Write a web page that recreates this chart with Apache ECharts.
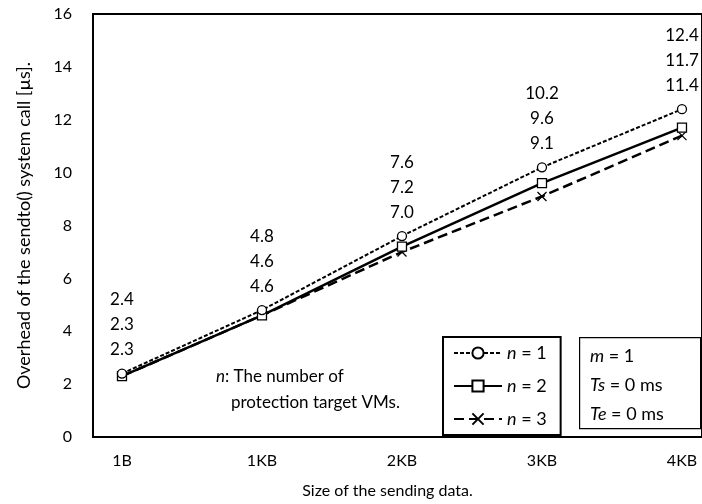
<!DOCTYPE html>
<html>
<head>
<meta charset="utf-8">
<script src="https://cdn.jsdelivr.net/npm/echarts@6/dist/echarts.min.js"></script>
<style>
  html, body { margin: 0; padding: 0; background: #fff; }
  #chart { width: 702px; height: 504px; }
</style>
</head>
<body>
<div id="chart"></div>
<script>
// sendto() overhead vs data size, three VM counts
const sizes = ['1B', '1KB', '2KB', '3KB', '4KB'];
const n1 = [2.4, 4.8, 7.6, 10.2, 12.4];
const n2 = [2.3, 4.6, 7.2, 9.6, 11.7];
const n3 = [2.3, 4.6, 7.0, 9.1, 11.4];
const seriesNames = ['n = 1', 'n = 2', 'n = 3'];

const FONT = 'Lato';

function pairs(arr) {
  return arr.map((v, i) => [i, v]);
}

const chart = echarts.init(document.getElementById('chart'));

const crossPath = 'path://M0,0L10,10M10,0L0,10';

const option = {
  animation: false,
  textStyle: { fontFamily: FONT, color: '#000' },
  grid: {
    left: 93, right: 0, top: 14, bottom: 65,
    show: true, borderColor: '#000', borderWidth: 2, backgroundColor: '#fff'
  },
  xAxis: {
    type: 'value',
    min: -0.207,
    max: 4.143,
    splitLine: { show: false },
    axisTick: { show: false },
    axisLine: { onZero: false, lineStyle: { color: '#000', width: 2 } },
    axisLabel: {
      customValues: [0, 1, 2, 3, 4],
      formatter: v => sizes[Math.round(v)],
      fontSize: 16, color: '#000', margin: 16, fontFamily: FONT
    },
    name: 'Size of the sending data.',
    nameLocation: 'middle',
    nameGap: 46,
    nameTextStyle: { fontSize: 16, color: '#000', fontFamily: FONT, padding: [0, 20, 0, 0] }
  },
  yAxis: {
    type: 'value',
    min: 0, max: 16, interval: 2,
    splitLine: { show: false },
    axisTick: { show: false },
    axisLine: { show: true, onZero: false, lineStyle: { color: '#000', width: 2 } },
    axisLabel: { fontSize: 16, color: '#000', margin: 21, fontFamily: FONT },
    name: 'Overhead of the sendto() system call [µs].',
    nameLocation: 'middle',
    nameGap: 60,
    nameTextStyle: { fontSize: 18, color: '#000', fontFamily: FONT }
  },
  legend: {
    orient: 'vertical',
    left: 443, top: 337,
    data: seriesNames,
    borderColor: '#000', borderWidth: 2,
    padding: [7, 14, 7, 10],
    itemGap: 15,
    itemWidth: 48, itemHeight: 14,
    backgroundColor: '#fff',
    formatter: name => '{i|n}' + name.slice(1),
    textStyle: {
      fontSize: 18, color: '#000', fontFamily: FONT,
      rich: { i: { fontStyle: 'italic', fontSize: 18, fontFamily: FONT } }
    }
  },
  series: [
    {
      name: seriesNames[0], type: 'line', data: pairs(n1),
      symbol: 'circle', symbolSize: 9,
      lineStyle: { color: '#000', width: 2, type: [4, 2] },
      itemStyle: { color: '#fff', borderColor: '#000', borderWidth: 1.3 },
      z: 4,
      label: {
        show: true, position: 'top', distance: 6,
        formatter: p => [n1[p.dataIndex], n2[p.dataIndex], n3[p.dataIndex]]
          .map(v => v.toFixed(1)).join('\n'),
        fontSize: 17, lineHeight: 25, color: '#000', fontFamily: FONT
      }
    },
    {
      name: seriesNames[1], type: 'line', data: pairs(n2),
      symbol: 'rect', symbolSize: 9,
      lineStyle: { color: '#000', width: 2.5, type: 'solid' },
      itemStyle: { color: '#fff', borderColor: '#000', borderWidth: 1.3 },
      z: 3
    },
    {
      name: seriesNames[2], type: 'line', data: pairs(n3),
      symbol: crossPath, symbolSize: 9,
      lineStyle: { color: '#000', width: 2.5, type: [10, 5] },
      itemStyle: { color: '#fff', borderColor: '#000', borderWidth: 1.3 },
      z: 2
    }
  ],
  graphic: [
    {
      type: 'rect', left: 579, top: 337, z: 10,
      shape: { width: 121, height: 91 },
      style: { fill: '#fff', stroke: '#000', lineWidth: 1.2 }
    },
    {
      type: 'text', left: 590, top: 342, z: 11,
      style: {
        text: '{i|m} = 1\n{i|Ts} = 0 ms\n{i|Te} = 0 ms',
        font: '18px ' + FONT, fill: '#000', lineHeight: 29,
        rich: { i: { fontStyle: 'italic', fontSize: 18, fontFamily: FONT, lineHeight: 29 } }
      }
    },
    {
      type: 'text', left: 216, top: 368, z: 11,
      style: {
        text: '{i|n}: The number of',
        font: '17px ' + FONT, fill: '#000',
        rich: { i: { fontStyle: 'italic', fontSize: 17, fontFamily: FONT } }
      }
    },
    {
      type: 'text', left: 231, top: 394, z: 11,
      style: { text: 'protection target VMs.', font: '17px ' + FONT, fill: '#000' }
    }
  ]
};

chart.setOption(option);
</script>
</body>
</html>
